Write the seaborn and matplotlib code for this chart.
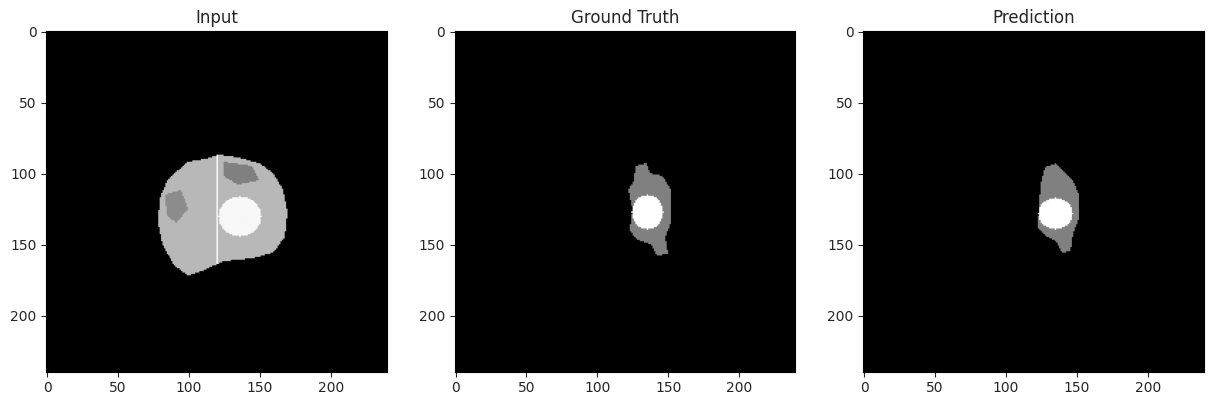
import numpy as np
import seaborn as sns
import matplotlib.pyplot as plt
from matplotlib.path import Path

sns.set_style("white")

size = 240
titles = ["Input", "Ground Truth", "Prediction"]

# outlines, (x, y) in pixel coords
brain_outline = [(100, 92), (112, 90), (122, 87), (135, 89), (150, 93), (160, 100), (167, 112),
                 (170, 128), (168, 145), (160, 156), (145, 160), (125, 162), (112, 168),
                 (100, 172), (90, 165), (82, 150), (79, 135), (80, 118), (86, 104)]
brain_dark_left = [(84, 115), (95, 112), (100, 125), (92, 135), (85, 130)]
brain_dark_top = [(125, 92), (145, 95), (150, 105), (135, 108), (125, 102)]
tumor_in = (136, 130, 15, 14)   # cx, cy, rx, ry
midline_x = 120

gt_edema = [(127, 95), (135, 93), (137, 100), (146, 102), (152, 112), (152, 135), (148, 145),
            (150, 157), (142, 158), (138, 150), (128, 147), (123, 140), (125, 125), (122, 112), (126, 105)]
gt_core = (135, 127, 11, 12)
pred_edema = [(128, 96), (136, 93), (142, 100), (148, 106), (152, 115), (152, 132), (148, 142),
              (146, 155), (140, 156), (136, 148), (128, 144), (123, 138), (124, 122), (125, 108)]
pred_core = (135, 128, 12, 11)

yy, xx = np.mgrid[0:size, 0:size]
pts = np.column_stack([xx.ravel() + 0.5, yy.ravel() + 0.5])


def poly_mask(poly):
    return Path(poly).contains_points(pts).reshape(size, size)


def ellipse_mask(e):
    cx, cy, rx, ry = e
    return ((xx - cx) / rx) ** 2 + ((yy - cy) / ry) ** 2 <= 1


img_in = np.zeros((size, size))
img_in[poly_mask(brain_outline)] = 0.72
img_in[poly_mask(brain_dark_left)] = 0.55
img_in[poly_mask(brain_dark_top)] = 0.5
img_in[ellipse_mask(tumor_in)] = 0.97
img_in[(np.abs(xx - midline_x) < 1) & poly_mask(brain_outline)] = 1.0

img_gt = np.zeros((size, size))
img_gt[poly_mask(gt_edema)] = 0.5
img_gt[ellipse_mask(gt_core)] = 1.0

img_pred = np.zeros((size, size))
img_pred[poly_mask(pred_edema)] = 0.5
img_pred[ellipse_mask(pred_core)] = 1.0

fig, axes = plt.subplots(1, 3, figsize=(12.22, 4.07), dpi=100)
for ax, im, t in zip(axes, [img_in, img_gt, img_pred], titles):
    ax.imshow(im, cmap="gray", vmin=0, vmax=1)
    ax.set_title(t)
    ax.set_xticks([0, 50, 100, 150, 200])
    ax.set_yticks([0, 50, 100, 150, 200])
    for s in ax.spines.values():
        s.set_visible(True)
        s.set_color("black")
    ax.tick_params(left=True, bottom=True, length=3.5)
plt.subplots_adjust(left=0.038, right=0.985, bottom=0.085, top=0.925, wspace=0.2)
plt.savefig("out.png")
